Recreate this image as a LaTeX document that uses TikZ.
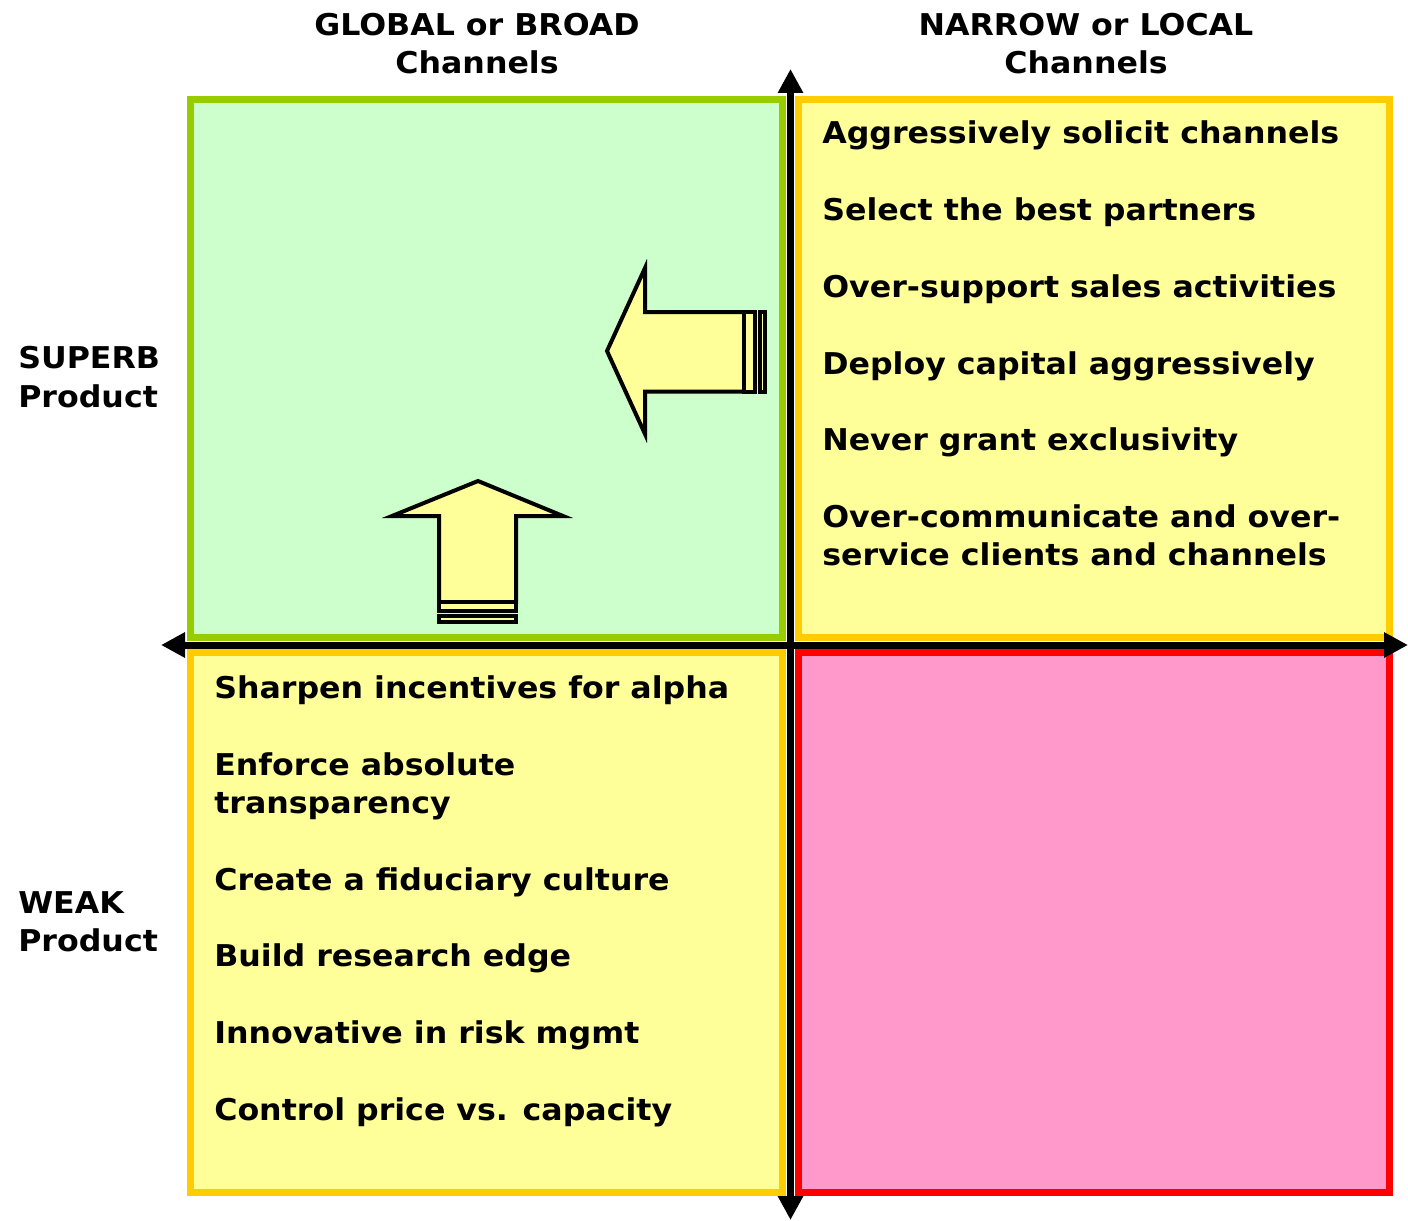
\documentclass[tikz,border=0pt]{standalone}
\usepackage{fontspec}
\setmainfont[FakeStretch=1.055]{DejaVu Sans}
\usetikzlibrary{arrows.meta}
\definecolor{gfill}{HTML}{CCFFCC}
\definecolor{gline}{HTML}{99CC00}
\definecolor{yfill}{HTML}{FFFF99}
\definecolor{yline}{HTML}{FFCC00}
\definecolor{pfill}{HTML}{FF99CC}
\definecolor{pline}{HTML}{FF0000}
\tikzset{
  quad/.style={line width=5.25pt},
  axis/.style={line width=5.25pt, {Triangle[length=18pt,width=18pt]}-{Triangle[length=18pt,width=18pt]}},
  blockarrow/.style={draw=black, fill=yfill, line width=3pt, line join=miter},
  item/.style={anchor=base west, inner sep=0pt, font=\fontsize{22.5pt}{28pt}\bfseries},
  head/.style={anchor=base, inner sep=0pt, font=\fontsize{22.5pt}{28pt}\bfseries},
  side/.style={anchor=base west, inner sep=0pt, font=\fontsize{22.5pt}{28pt}\bfseries},
}
\begin{document}
\begin{tikzpicture}[x=0.75pt,y=-0.75pt]
\useasboundingbox (0,0) rectangle (1408,1220);
% quadrants
\draw[quad, draw=gline, fill=gfill] (190.5,99.5) rectangle (782,637.5);
\draw[quad, draw=yline, fill=yfill] (798,99.5) rectangle (1389.5,637.5);
\draw[quad, draw=yline, fill=yfill] (190.5,652.5) rectangle (782,1192.5);
\draw[quad, draw=pline, fill=pfill] (798,652.5) rectangle (1389.5,1192.5);
% axes
\coordinate (vtop) at (790.5,69);
\coordinate (vbot) at (790.5,1220);
\coordinate (hleft) at (161,645);
\coordinate (hright) at (1408,645);
\draw[axis] (vbot) -- (vtop);
\draw[axis] (hleft) -- (hright);
% left block arrow
\draw[blockarrow] (607,351) -- (645,268) -- (645,312) -- (744,312) -- (744,391.5) -- (645,391.5) -- (645,434) -- cycle;
\draw[blockarrow] (744,312) rectangle (755,391.5);
\draw[blockarrow] (760,312) rectangle (765,391.5);
% up block arrow
\draw[blockarrow] (478,481) -- (563,516) -- (516,516) -- (516,602) -- (439,602) -- (439,516) -- (392,516) -- cycle;
\draw[blockarrow] (439,602) rectangle (516,611);
\draw[blockarrow] (439,616) rectangle (516,622);
% headers
\node[head] (h1a) at (477,36) {GLOBAL or BROAD};
\node[head] (h1b) at (477,74) {Channels};
\node[head] (h2a) at (1086,36) {NARROW or LOCAL};
\node[head] (h2b) at (1086,74) {Channels};
% side labels
\node[side] (s1a) at (18,368) {SUPERB};
\node[side] (s1b) at (18,407) {Product};
\node[side] (s2a) at (18,913) {WEAK};
\node[side] (s2b) at (18,951) {Product};
% top-right items
\node[item] (t1) at (822,144) {Aggressively solicit channels};
\node[item] (t2) at (822,220) {Select the best partners};
\node[item] (t3) at (822,297) {Over-support sales activities};
\node[item] (t4) at (822,374) {Deploy capital aggressively};
\node[item] (t5) at (822,450) {Never grant exclusivity};
\node[item] (t6a) at (822,527) {Over-communicate and over-};
\node[item] (t6b) at (822,565) {service clients and channels};
% bottom-left items
\node[item] (b1) at (214,698) {Sharpen incentives for alpha};
\node[item] (b2a) at (214,775) {Enforce absolute};
\node[item] (b2b) at (214,813) {transparency};
\node[item] (b3) at (214,890) {Create a fiduciary culture};
\node[item] (b4) at (214,966) {Build research edge};
\node[item] (b5) at (214,1043) {Innovative in risk mgmt};
\node[item] (b6) at (214,1120) {Control price vs. capacity};
\end{tikzpicture}
\end{document}
